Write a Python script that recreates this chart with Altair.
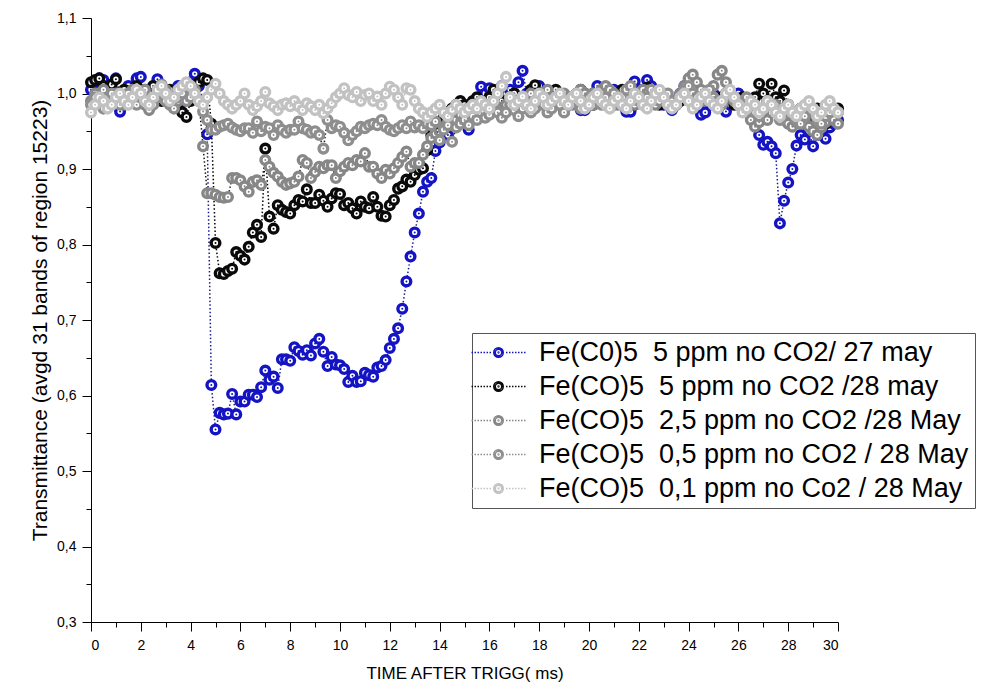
import altair as alt
import pandas as pd

# ---------------- data ----------------
time_ms = [
    0, 0.167, 0.333, 0.5, 0.667, 0.833,
    1, 1.167, 1.333, 1.5, 1.667, 1.833,
    2, 2.167, 2.333, 2.5, 2.667, 2.833,
    3, 3.167, 3.333, 3.5, 3.667, 3.833,
    4, 4.167, 4.333, 4.5, 4.667, 4.833,
    5, 5.167, 5.333, 5.5, 5.667, 5.833,
    6, 6.167, 6.333, 6.5, 6.667, 6.833,
    7, 7.167, 7.333, 7.5, 7.667, 7.833,
    8, 8.167, 8.333, 8.5, 8.667, 8.833,
    9, 9.167, 9.333, 9.5, 9.667, 9.833,
    10, 10.167, 10.333, 10.5, 10.667, 10.833,
    11, 11.167, 11.333, 11.5, 11.667, 11.833,
    12, 12.167, 12.333, 12.5, 12.667, 12.833,
    13, 13.167, 13.333, 13.5, 13.667, 13.833,
    14, 14.167, 14.333, 14.5, 14.667, 14.833,
    15, 15.167, 15.333, 15.5, 15.667, 15.833,
    16, 16.167, 16.333, 16.5, 16.667, 16.833,
    17, 17.167, 17.333, 17.5, 17.667, 17.833,
    18, 18.167, 18.333, 18.5, 18.667, 18.833,
    19, 19.167, 19.333, 19.5, 19.667, 19.833,
    20, 20.167, 20.333, 20.5, 20.667, 20.833,
    21, 21.167, 21.333, 21.5, 21.667, 21.833,
    22, 22.167, 22.333, 22.5, 22.667, 22.833,
    23, 23.167, 23.333, 23.5, 23.667, 23.833,
    24, 24.167, 24.333, 24.5, 24.667, 24.833,
    25, 25.167, 25.333, 25.5, 25.667, 25.833,
    26, 26.167, 26.333, 26.5, 26.667, 26.833,
    27, 27.167, 27.333, 27.5, 27.667, 27.833,
    28, 28.167, 28.333, 28.5, 28.667, 28.833,
    29, 29.167, 29.333, 29.5, 29.667, 29.833,
    30,
]

fe5_27may = [
    1.005, 1.015, 1.020, 1.018, 1.010, 1.000,
    1.020, 0.976, 1.000, 1.010, 1.000, 1.020,
    1.022, 1.005, 0.995, 1.010, 1.019, 1.000,
    1.005, 0.990, 1.000, 1.010, 0.989, 1.000,
    1.015, 1.026, 1.010, 0.990, 0.946, 0.614,
    0.555, 0.577, 0.575, 0.576, 0.602, 0.575,
    0.592, 0.592, 0.601, 0.601, 0.598, 0.611,
    0.633, 0.621, 0.625, 0.610, 0.648, 0.648,
    0.646, 0.664, 0.659, 0.654, 0.660, 0.653,
    0.669, 0.675, 0.658, 0.639, 0.651, 0.641,
    0.640, 0.635, 0.618, 0.626, 0.618, 0.619,
    0.630, 0.627, 0.625, 0.637, 0.639, 0.647,
    0.663, 0.675, 0.689, 0.715, 0.751, 0.784,
    0.816, 0.841, 0.870, 0.883, 0.888, 0.924,
    0.935, 0.950, 0.945, 0.958, 0.958, 0.965,
    0.975, 0.952, 0.985, 0.990, 1.009, 1.000,
    1.007, 0.995, 1.000, 1.010, 0.990, 1.005,
    1.000, 1.015, 1.030, 1.000, 0.990, 1.000,
    1.010, 0.995, 0.985, 0.990, 1.000, 0.990,
    0.976, 0.985, 0.990, 1.000, 0.978, 0.978,
    0.990, 1.000, 1.010, 0.995, 0.985, 1.000,
    1.005, 0.990, 0.985, 0.976, 0.976, 1.016,
    1.005, 0.995, 1.018, 1.010, 1.000, 0.990,
    0.985, 0.990, 0.978, 0.985, 1.000, 1.010,
    0.995, 0.990, 0.980, 0.972, 0.975, 0.990,
    1.000, 0.995, 0.985, 0.976, 0.985, 0.990,
    1.000, 0.990, 0.980, 0.969, 0.966, 0.945,
    0.932, 0.936, 0.930, 0.921, 0.828, 0.858,
    0.882, 0.900, 0.931, 0.945, 0.939, 0.950,
    0.930, 0.945, 0.948, 0.940, 0.955, 0.960,
    0.965,
]

fe5_28may = [
    1.015, 1.018, 1.020, 1.010, 1.005, 1.012,
    1.019, 1.000, 1.005, 0.995, 1.000, 1.010,
    1.005, 0.995, 1.000, 1.010, 1.000, 0.990,
    1.000, 1.005, 0.995, 0.985, 0.975, 0.969,
    0.990, 1.005, 1.015, 1.020, 1.018, 0.960,
    0.802, 0.762, 0.761, 0.765, 0.768, 0.790,
    0.785, 0.780, 0.797, 0.816, 0.826, 0.810,
    0.927, 0.837, 0.821, 0.852, 0.846, 0.843,
    0.841, 0.852, 0.859, 0.857, 0.873, 0.855,
    0.855, 0.866, 0.858, 0.850, 0.861, 0.868,
    0.867, 0.852, 0.855, 0.848, 0.841, 0.857,
    0.850, 0.848, 0.863, 0.850, 0.838, 0.837,
    0.852, 0.859, 0.874, 0.877, 0.886, 0.883,
    0.892, 0.899, 0.901, 0.925, 0.945, 0.955,
    0.962, 0.970, 0.975, 0.980, 0.985, 0.990,
    0.985, 0.980, 0.990, 0.995, 0.990, 0.985,
    0.995, 1.005, 1.000, 0.990, 0.985, 0.995,
    1.000, 0.990, 0.985, 0.995, 1.005, 1.011,
    1.000, 0.990, 0.985, 0.995, 1.005, 0.995,
    0.990, 0.985, 0.990, 0.995, 1.005, 1.000,
    0.990, 0.985, 0.995, 1.000, 0.995, 0.990,
    0.985, 0.995, 1.005, 1.000, 0.990, 0.985,
    0.995, 1.000, 1.008, 0.995, 0.990, 0.985,
    0.990, 0.995, 0.990, 0.985, 0.990, 0.995,
    1.000, 0.995, 0.985, 0.990, 0.995, 0.990,
    0.985, 0.990, 0.995, 1.000, 0.995, 0.985,
    0.990, 0.995, 0.990, 0.985, 0.995, 1.013,
    1.000, 0.990, 1.013, 0.995, 0.990, 1.004,
    0.985, 0.975, 0.970, 0.980, 0.965, 0.960,
    0.970, 0.980, 0.965, 0.960, 0.970, 0.975,
    0.980,
]

fe2p5_28may = [
    0.990, 1.000, 0.995, 1.005, 0.985, 0.995,
    1.000, 0.990, 0.985, 0.995, 1.005, 1.000,
    0.990, 0.985, 0.978, 0.990, 1.000, 1.012,
    1.005, 0.995, 0.985, 0.990, 1.000, 1.010,
    1.005, 0.995, 0.990, 0.930, 0.868, 0.868,
    0.866, 0.863, 0.862, 0.863, 0.888, 0.888,
    0.885, 0.877, 0.870, 0.883, 0.885, 0.879,
    0.912, 0.903, 0.895, 0.890, 0.883, 0.879,
    0.881, 0.883, 0.890, 0.912, 0.908, 0.888,
    0.896, 0.903, 0.901, 0.905, 0.905, 0.888,
    0.897, 0.903, 0.908, 0.905, 0.912, 0.910,
    0.921, 0.903, 0.903, 0.894, 0.888, 0.899,
    0.894, 0.901, 0.908, 0.916, 0.923, 0.903,
    0.908, 0.908, 0.919, 0.930, 0.941, 0.947,
    0.950, 0.955, 0.962, 0.958, 0.965, 0.972,
    0.968, 0.975, 0.980, 0.972, 0.985, 0.978,
    0.985, 0.990, 0.980, 0.975, 0.985, 0.995,
    0.990, 0.980, 0.985, 0.995, 1.000, 0.990,
    0.985, 0.995, 1.005, 0.995, 0.985, 0.990,
    1.000, 0.995, 0.985, 0.990, 1.005, 1.000,
    0.990, 0.985, 0.995, 1.005, 1.010, 1.000,
    0.990, 0.985, 0.995, 1.000, 0.990, 0.985,
    0.995, 1.005, 1.000, 0.990, 0.985, 0.995,
    1.000, 0.990, 0.985, 0.990, 1.000, 1.010,
    1.020, 1.025, 1.015, 1.005, 0.995, 1.000,
    1.010, 1.025, 1.030, 1.015, 1.000, 0.995,
    0.990, 0.985, 0.975, 0.965, 0.956, 0.962,
    0.970, 0.965, 0.975, 0.985, 0.975, 0.965,
    0.960, 0.956, 0.962, 0.970, 0.965, 0.956,
    0.950, 0.945, 0.955, 0.962, 0.970, 0.965,
    0.960,
]

fe0p5_28may = [
    0.985, 0.995, 0.990, 0.980, 0.995, 1.000,
    0.990, 0.985, 0.995, 1.000, 0.990, 0.985,
    0.995, 1.005, 0.990, 0.985, 0.995, 1.000,
    0.990, 0.985, 0.980, 0.995, 1.000, 0.990,
    0.995, 1.005, 0.990, 0.976, 0.965, 0.952,
    0.952, 0.956, 0.958, 0.960, 0.955, 0.952,
    0.950, 0.954, 0.954, 0.948, 0.963, 0.950,
    0.956, 0.954, 0.945, 0.958, 0.952, 0.948,
    0.952, 0.952, 0.963, 0.954, 0.952, 0.948,
    0.950, 0.945, 0.927, 0.965, 0.954, 0.958,
    0.956, 0.948, 0.938, 0.945, 0.950, 0.956,
    0.954, 0.958, 0.960, 0.958, 0.965, 0.956,
    0.952, 0.950, 0.954, 0.958, 0.954, 0.963,
    0.955, 0.958, 0.954, 0.960, 0.958, 0.963,
    0.938, 0.952, 0.958, 0.936, 0.955, 0.960,
    0.965, 0.958, 0.970, 0.965, 0.975, 0.968,
    0.972, 0.980, 0.975, 0.968, 0.975, 0.985,
    0.978, 0.970, 0.980, 0.985, 0.975, 0.980,
    0.990, 0.985, 0.975, 0.980, 0.990, 0.985,
    0.975, 0.985, 0.995, 0.990, 0.980, 0.985,
    0.995, 1.000, 0.990, 0.985, 0.995, 1.005,
    1.000, 0.990, 0.995, 1.005, 1.010, 1.000,
    0.990, 0.985, 0.995, 1.005, 1.000, 0.990,
    0.995, 1.000, 0.990, 0.985, 0.995, 1.005,
    1.010, 1.000, 0.995, 0.990, 1.000, 1.005,
    0.995, 0.990, 0.985, 0.995, 1.000, 0.990,
    0.985, 0.990, 0.995, 0.985, 0.975, 0.970,
    0.980, 0.990, 0.985, 0.975, 0.965, 0.975,
    0.985, 0.975, 0.965, 0.960, 0.970, 0.980,
    0.975, 0.965, 0.960, 0.970, 0.975, 0.980,
    0.975,
]

fe0p1_28may = [
    0.975, 0.985, 0.995, 0.990, 0.980, 0.985,
    0.995, 1.000, 0.990, 0.985, 0.995, 1.005,
    1.000, 0.990, 0.985, 0.995, 1.005, 1.010,
    1.000, 0.990, 0.995, 1.005, 1.010, 1.015,
    1.010, 1.000, 0.990, 0.985, 0.995, 1.005,
    1.013, 1.000, 0.990, 0.985, 0.980, 0.985,
    0.990, 1.000, 0.985, 0.978, 0.983, 0.990,
    1.002, 0.987, 0.983, 0.978, 0.985, 0.987,
    0.983, 0.990, 0.983, 0.978, 0.987, 0.983,
    0.978, 0.985, 0.974, 0.980, 0.987, 0.995,
    1.000, 1.007, 0.998, 0.995, 1.002, 0.990,
    0.998, 1.000, 0.990, 0.996, 0.985, 1.000,
    1.009, 1.005, 0.995, 0.985, 1.007, 1.005,
    0.990, 0.980, 0.975, 0.969, 0.975, 0.980,
    0.985, 0.975, 0.970, 0.978, 0.985, 0.980,
    0.975, 0.980, 0.985, 0.980, 0.990, 0.985,
    0.980, 0.990, 1.000, 1.010, 1.022, 0.995,
    0.985, 0.990, 0.996, 0.985, 0.980, 0.990,
    1.000, 0.995, 0.985, 0.990, 0.995, 1.000,
    0.990, 0.985, 0.995, 1.000, 0.990, 0.980,
    0.985, 0.995, 1.000, 0.990, 0.985, 0.980,
    0.990, 0.995, 0.985, 0.980, 0.990, 1.000,
    0.995, 0.985, 0.980, 0.990, 1.000, 1.005,
    0.995, 0.985, 0.980, 0.985, 0.995, 1.000,
    0.990, 0.980, 0.985, 0.995, 1.000, 0.990,
    0.985, 0.980, 0.990, 1.000, 1.005, 0.995,
    0.985, 0.975, 0.980, 0.990, 0.985, 0.975,
    0.980, 0.990, 0.985, 0.975, 0.970, 0.980,
    0.985, 0.975, 0.970, 0.980, 0.985, 0.990,
    0.980, 0.970, 0.975, 0.985, 0.990, 0.980,
    0.975,
]

series_names = [
    "Fe(C0)5\u00a0 5 ppm no CO2/ 27 may",
    "Fe(CO)5\u00a0 5 ppm no CO2 /28 may",
    "Fe(CO)5\u00a0 2,5 ppm no CO2 /28 May",
    "Fe(CO)5\u00a0 0,5 ppm no CO2 / 28 May",
    "Fe(CO)5\u00a0 0,1 ppm no Co2 / 28 May",
]
series_values = [fe5_27may, fe5_28may, fe2p5_28may, fe0p5_28may, fe0p1_28may]
point_colors = ["#1414c4", "#0a0a0a", "#878787", "#8e8e8e", "#c2c2c2"]
line_colors = ["#1c1c8c", "#000000", "#1a1a1a", "#1a1a1a", "#c2c2c2"]

x_major_ticks = list(range(0, 31, 2))
x_minor_ticks = list(range(1, 30, 2))
y_major_ticks = [0.3, 0.4, 0.5, 0.6, 0.7, 0.8, 0.9, 1.0, 1.1]
y_minor_ticks = [0.35, 0.45, 0.55, 0.65, 0.75, 0.85, 0.95, 1.05]

# ---------------- table ----------------
rows = []
for name, vals, lc, pc in zip(series_names, series_values, line_colors, point_colors):
    for t, v in zip(time_ms, vals):
        rows.append({"t": t, "v": v, "series": name, "lc": lc, "pc": pc})
df = pd.DataFrame(rows)

# ---------------- legend symbol: dotted line + ring + centre dot ----------------
# whole glyph drawn to the left of the symbol origin (glyph centre at C units)
C = -5.4

def circ(r):
    return f"M {C + r:.2f} 0 A {r} {r} 0 1 1 {C - r:.2f} 0 A {r} {r} 0 1 1 {C + r:.2f} 0 "

segs = []
xx = 1.5
while xx <= 5.2:
    segs.append(f"M {C + xx:.2f} 0 L {C + xx + 0.3:.2f} 0 ")
    segs.append(f"M {C - xx - 0.3:.2f} 0 L {C - xx:.2f} 0 ")
    xx += 0.6
legend_symbol = ("".join(segs) + circ(0.95) + circ(0.65) + circ(0.08)).strip()

FONT = "Liberation Sans, Arial, sans-serif"

xscale = alt.Scale(domain=[0, 30], nice=False)
yscale = alt.Scale(domain=[0.3, 1.1], nice=False, zero=False)
cscale = alt.Scale(domain=series_names, range=point_colors)

x_axis_major = alt.Axis(
    values=x_major_ticks, format="d", title="TIME AFTER TRIGG( ms)", orient="bottom",
    grid=False, tickSize=9, tickColor="#000", domainColor="#000", labelFont=FONT,
    labelFontSize=14, labelColor="#000", labelPadding=7, titleFont=FONT,
    titleFontSize=17, titleFontWeight="normal", titleColor="#000", titlePadding=13,
)
x_axis_minor = alt.Axis(
    values=x_minor_ticks, labels=False, title=None, orient="bottom", grid=False,
    tickSize=5, tickColor="#000", domain=False,
)
y_axis_major = alt.Axis(
    values=y_major_ticks, labelExpr="replace(format(datum.value, '.1f'), '.', ',')",
    title="Transmittance (avgd 31 bands of region 15223)", orient="left", grid=False,
    tickSize=9, tickColor="#000", domainColor="#000", labelFont=FONT, labelFontSize=14,
    labelColor="#000", labelPadding=6, titleFont=FONT, titleFontSize=21,
    titleFontWeight="normal", titleColor="#000", titlePadding=6,
)
y_axis_minor = alt.Axis(
    values=y_minor_ticks, labels=False, title=None, orient="left", grid=False,
    tickSize=5, tickColor="#000", domain=False,
)

legend = alt.Legend(
    title=None, orient="none", legendX=381, legendY=315, direction="vertical",
    strokeColor="#555", fillColor="white", padding=6, labelFont=FONT,
    labelFontSize=27, labelColor="#000", labelLimit=0, rowPadding=6,
    symbolType=legend_symbol, symbolSize=100, symbolStrokeWidth=1.5,
    symbolFillColor="white", symbolOffset=34, labelOffset=0,
)

base = alt.Chart(df)
layers = []
for k, name in enumerate(series_names):
    sub = base.transform_filter(alt.datum.series == name)
    if k == 0:
        xl, yl = alt.X("t:Q", scale=xscale, axis=x_axis_major), alt.Y("v:Q", scale=yscale, axis=y_axis_major)
        xd, yd = alt.X("t:Q", scale=xscale, axis=x_axis_minor), alt.Y("v:Q", scale=yscale, axis=y_axis_minor)
    else:
        xl, yl = alt.X("t:Q", scale=xscale, axis=None), alt.Y("v:Q", scale=yscale, axis=None)
        xd, yd = xl, yl
    xr, yr = alt.X("t:Q", scale=xscale, axis=None), alt.Y("v:Q", scale=yscale, axis=None)
    line = sub.mark_line(strokeDash=[1.5, 2.2], strokeWidth=1.5).encode(
        x=xl, y=yl, color=alt.Color("lc:N", scale=None)
    )
    ring = sub.mark_point(
        filled=False, fill="white", fillOpacity=1, opacity=1,
        size=75, strokeWidth=3.4,
    ).encode(x=xr, y=yr, color=alt.Color("series:N", scale=cscale, legend=legend))
    dot = sub.mark_circle(size=4, opacity=1).encode(
        x=xd, y=yd, color=alt.Color("pc:N", scale=None)
    )
    layers += [line, ring, dot]

chart = (
    alt.layer(*layers)
    .resolve_axis(x="independent", y="independent")
    .properties(
        width=747, height=604, autosize="none",
        padding={"left": 83, "top": 10, "right": 140, "bottom": 66},
    )
    .configure_view(stroke=None)
)

chart.save("out.html", embed_options={"renderer": "svg", "actions": False})
